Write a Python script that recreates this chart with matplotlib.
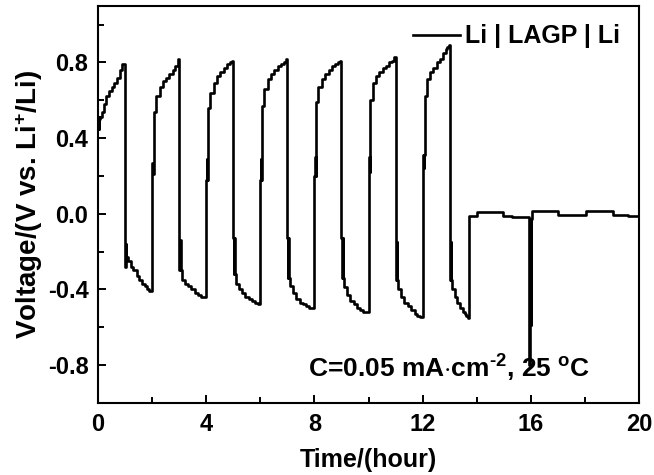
import numpy as np
import matplotlib
matplotlib.use('Agg')
import matplotlib.pyplot as plt

plt.rcParams['font.family'] = 'Liberation Sans'
plt.rcParams['font.weight'] = 'bold'
plt.rcParams['axes.unicode_minus'] = False
plt.rcParams['mathtext.fontset'] = 'custom'
plt.rcParams['mathtext.rm'] = 'Liberation Sans:bold'
plt.rcParams['mathtext.bf'] = 'Liberation Sans:bold'
plt.rcParams['mathtext.default'] = 'bf'

# ---- charge halves (time in h, voltage in V)
# first few points zig-zag: the noisy (thick) part right after the current reversal
chg_t = [
    [0.00, 0.01, 0.02, 0.03, 0.04, 0.05, 0.06, 0.14, 0.22, 0.30, 0.40, 0.50, 0.60, 0.70, 0.80, 0.88],
    [2.00, 2.01, 2.02, 2.03, 2.04, 2.05, 2.07, 2.15, 2.28, 2.40, 2.52, 2.64, 2.76, 2.86, 2.94, 2.97],
    [4.00, 4.01, 4.02, 4.03, 4.04, 4.05, 4.07, 4.15, 4.28, 4.40, 4.52, 4.64, 4.76, 4.86, 4.94, 4.97],
    [6.00, 6.01, 6.02, 6.03, 6.04, 6.05, 6.07, 6.15, 6.28, 6.40, 6.52, 6.64, 6.76, 6.86, 6.94, 6.97],
    [8.00, 8.01, 8.02, 8.03, 8.04, 8.05, 8.07, 8.15, 8.28, 8.40, 8.52, 8.64, 8.76, 8.86, 8.94, 8.97],
    [10.00, 10.01, 10.02, 10.03, 10.04, 10.05, 10.07, 10.15, 10.28, 10.40, 10.52, 10.64, 10.76, 10.86, 10.94, 10.97],
    [12.00, 12.01, 12.02, 12.03, 12.04, 12.05, 12.07, 12.15, 12.28, 12.40, 12.52, 12.64, 12.76, 12.86, 12.92, 12.97],
]
chg_v = [
    [0.45, 0.51, 0.45, 0.51, 0.45, 0.50, 0.51, 0.54, 0.58, 0.62, 0.65, 0.67, 0.69, 0.72, 0.76, 0.79],
    [0.21, 0.27, 0.21, 0.27, 0.21, 0.27, 0.54, 0.62, 0.67, 0.70, 0.72, 0.74, 0.76, 0.78, 0.81, 0.82],
    [0.18, 0.29, 0.18, 0.29, 0.18, 0.29, 0.56, 0.64, 0.69, 0.73, 0.75, 0.77, 0.79, 0.80, 0.81, 0.81],
    [0.18, 0.29, 0.18, 0.29, 0.18, 0.29, 0.57, 0.66, 0.71, 0.74, 0.76, 0.78, 0.79, 0.80, 0.82, 0.82],
    [0.20, 0.30, 0.20, 0.30, 0.20, 0.30, 0.59, 0.67, 0.71, 0.74, 0.76, 0.78, 0.79, 0.80, 0.81, 0.81],
    [0.22, 0.30, 0.22, 0.30, 0.22, 0.30, 0.60, 0.69, 0.73, 0.75, 0.77, 0.78, 0.80, 0.81, 0.83, 0.83],
    [0.24, 0.31, 0.24, 0.31, 0.24, 0.31, 0.62, 0.71, 0.75, 0.77, 0.80, 0.82, 0.85, 0.87, 0.88, 0.89],
]

# ---- discharge halves
dis_t = [
    [1.00, 1.01, 1.02, 1.03, 1.04, 1.05, 1.06, 1.10, 1.20, 1.30, 1.42, 1.52, 1.62, 1.72, 1.82, 1.90],
    [3.00, 3.01, 3.02, 3.03, 3.04, 3.05, 3.07, 3.10, 3.20, 3.32, 3.45, 3.58, 3.70, 3.80, 3.90, 3.96],
    [5.00, 5.01, 5.02, 5.03, 5.04, 5.05, 5.07, 5.10, 5.20, 5.32, 5.45, 5.58, 5.70, 5.80, 5.90, 5.96],
    [7.00, 7.01, 7.02, 7.03, 7.04, 7.05, 7.07, 7.10, 7.20, 7.32, 7.45, 7.58, 7.70, 7.80, 7.90, 7.96],
    [9.00, 9.01, 9.02, 9.03, 9.04, 9.05, 9.07, 9.10, 9.20, 9.32, 9.45, 9.58, 9.70, 9.80, 9.90, 9.96],
    [11.00, 11.01, 11.02, 11.03, 11.04, 11.05, 11.07, 11.10, 11.20, 11.32, 11.45, 11.58, 11.70, 11.80, 11.90, 11.96],
    [13.00, 13.01, 13.02, 13.03, 13.04, 13.05, 13.07, 13.10, 13.18, 13.28, 13.38, 13.48, 13.56, 13.62, 13.67, 13.70],
]
dis_v = [
    [-0.15, -0.28, -0.16, -0.24, -0.16, -0.24, -0.23, -0.25, -0.28, -0.30, -0.33, -0.35, -0.37, -0.38, -0.40, -0.41],
    [-0.14, -0.30, -0.14, -0.30, -0.14, -0.30, -0.30, -0.35, -0.37, -0.38, -0.40, -0.42, -0.43, -0.44, -0.44, -0.44],
    [-0.13, -0.32, -0.13, -0.32, -0.13, -0.32, -0.32, -0.37, -0.40, -0.42, -0.44, -0.45, -0.46, -0.47, -0.48, -0.48],
    [-0.13, -0.34, -0.13, -0.34, -0.13, -0.34, -0.34, -0.38, -0.42, -0.45, -0.47, -0.48, -0.49, -0.50, -0.50, -0.50],
    [-0.13, -0.34, -0.13, -0.34, -0.13, -0.34, -0.34, -0.39, -0.43, -0.46, -0.48, -0.50, -0.51, -0.52, -0.52, -0.52],
    [-0.15, -0.35, -0.15, -0.35, -0.15, -0.35, -0.35, -0.40, -0.44, -0.47, -0.49, -0.51, -0.53, -0.54, -0.545, -0.545],
    [-0.15, -0.35, -0.15, -0.35, -0.15, -0.35, -0.35, -0.40, -0.44, -0.47, -0.50, -0.52, -0.53, -0.54, -0.55, -0.55],
]

# ---- after cycling: resting part with the spike at 16 h
rest_t = [13.72, 14.02, 14.97, 15.30, 15.60, 15.94, 15.95, 15.96, 15.97, 15.98, 15.99, 16.00, 16.01, 16.02,
          16.03, 17.00, 18.05, 19.03, 19.60, 20.00]
rest_v = [-0.01, 0.01, -0.01, -0.015, -0.02, -0.03, -0.80, -0.03, -0.59, -0.03, -0.59, -0.03, -0.59, -0.03,
          0.015, -0.005, 0.015, -0.005, -0.01, -0.01]

t = []
v = []
for i in range(len(chg_t)):
    t += chg_t[i] + dis_t[i]
    v += chg_v[i] + dis_v[i]
t += rest_t
v += rest_v

fig = plt.figure(figsize=(6.54, 4.75), dpi=100)
ax = fig.add_axes([0.150, 0.152, 0.827, 0.836])
ax.plot(t, v, color='k', lw=1.9, drawstyle='steps-post', label='Li | LAGP | Li')

ax.set_xlim(0, 20)
ax.set_ylim(-1.0, 1.1)
ax.set_xticks([0, 4, 8, 12, 16, 20])
ax.set_xticks(np.arange(2, 20, 4), minor=True)
ax.set_yticks([-0.8, -0.4, 0.0, 0.4, 0.8])
ax.set_yticks([-1.0, -0.6, -0.2, 0.2, 0.6, 1.0], minor=True)
ax.tick_params(which='both', direction='in', width=1.4, labelsize=17, top=False, right=False)
ax.tick_params(which='major', length=6, pad=7)
ax.tick_params(which='minor', length=4)
for s in ax.spines.values():
    s.set_linewidth(1.5)

ax.set_xlabel('Time/(hour)', fontsize=18, fontweight='bold', labelpad=9)
ax.set_ylabel('Voltage/(V vs. Li$^{+}$/Li)', fontsize=20, fontweight='bold', labelpad=2)

ax.legend(loc='upper right', frameon=False, fontsize=18, handlelength=1.9,
          handletextpad=0.2, borderaxespad=0.35)
ax.text(7.76, -0.867, 'C=0.05 mA$\\cdot$cm$^{\\text{-2}}$, 25 $^{\\text{o}}$C', fontsize=19,
        fontweight='bold', va='baseline')

plt.savefig('out.png', dpi=100)
